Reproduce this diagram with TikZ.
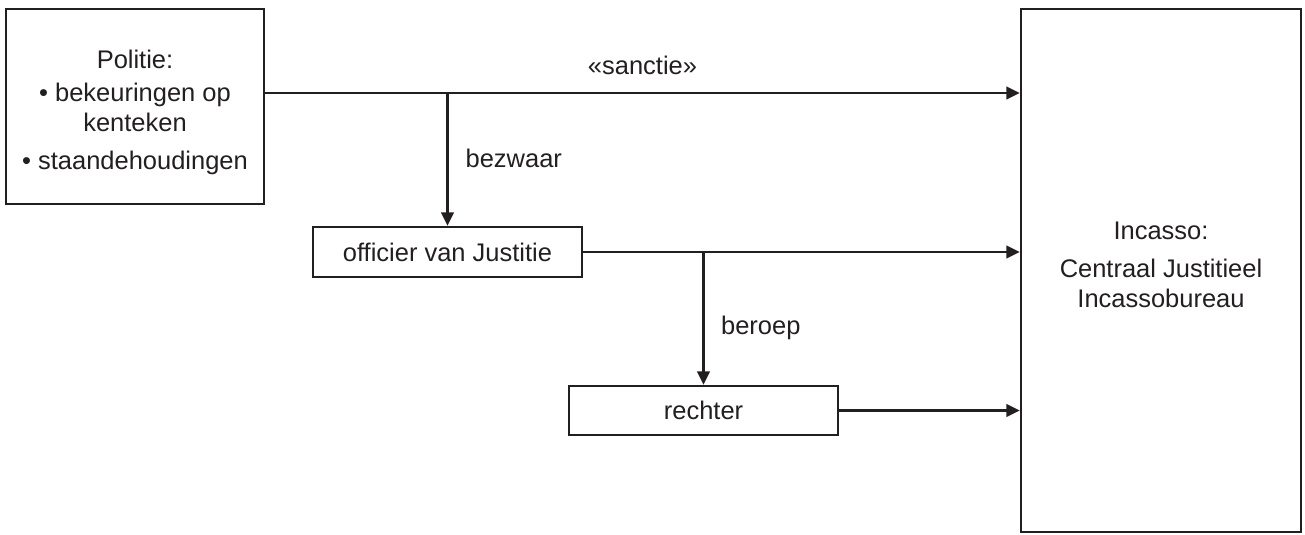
\documentclass[tikz,border=0pt]{standalone}
\usepackage{fontspec}
\setmainfont{Liberation Sans}
\usetikzlibrary{arrows.meta,positioning}
\definecolor{ink}{HTML}{231F20}

\begin{document}
\begin{tikzpicture}[>={Triangle[length=0.27cm,width=0.25cm]},line width=1.3pt,color=ink,on grid,
  box/.style={draw,inner sep=0pt,align=center,font=\fontsize{14.5}{17}\selectfont},
  lbl/.style={inner sep=0pt,font=\fontsize{14.5}{17}\selectfont}]
  \useasboundingbox (0,0) rectangle (26.1,-10.68);
  \node[box,minimum width=5.16cm,minimum height=3.9cm] (politie) at (2.7,-2.13)
    {\rule{0pt}{0.6cm}Politie:\\[2pt] • bekeuringen op\\ kenteken\\[4.5pt] • staandehoudingen};
  \node[box,minimum width=5.38cm,minimum height=1cm]   (officier) [below right=2.91cm and 6.25cm of politie] {officier van Justitie};
  \node[box,minimum width=5.38cm,minimum height=0.98cm] (rechter) [below right=3.17cm and 5.12cm of officier] {rechter};
  \node[box,minimum width=5.6cm,minimum height=10.46cm,text depth=0.24cm] (incasso) [below right=3.28cm and 20.52cm of politie]
    {Incasso:\\[4.5pt] Centraal Justitieel\\ Incassobureau};
  \coordinate (sanctie) at ([yshift=0.27cm]politie.east);
\tikzset{flow/.style={->}}
\draw (sanctie)                    edge [flow] node[lbl,anchor=south,yshift=0.35cm] {«sanctie»} (sanctie -| incasso.west)
      (sanctie -| officier.north)  edge [flow] node[lbl,anchor=west,xshift=0.34cm,pos=0.49] {bezwaar} (officier.north)
      (officier.east)              edge [flow] (officier.east -| incasso.west)
      (officier.east -| rechter.north) edge [flow] node[lbl,anchor=west,xshift=0.33cm,pos=0.57] {beroep} (rechter.north)
      (rechter.east)               edge [flow] (rechter.east -| incasso.west);
\end{tikzpicture}
\end{document}
